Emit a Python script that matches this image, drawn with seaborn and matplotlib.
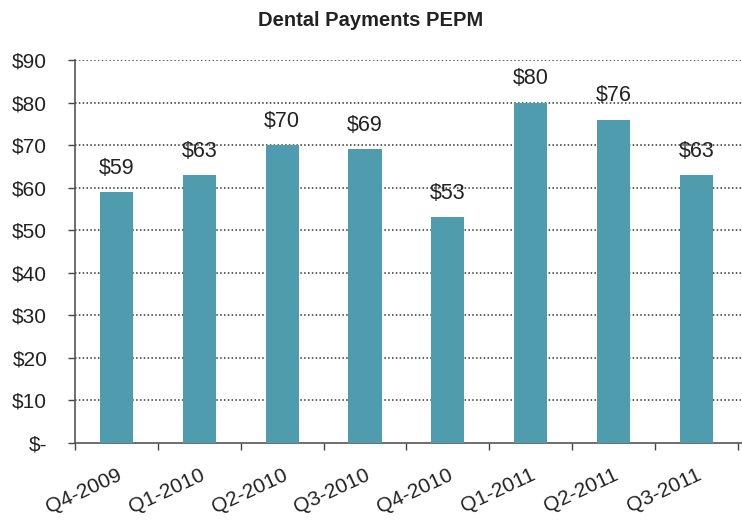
import matplotlib
matplotlib.use("Agg")
import matplotlib.pyplot as plt
import seaborn as sns
import pandas as pd
import numpy as np
from matplotlib.ticker import FixedLocator

quarters = ["Q4-2009", "Q1-2010", "Q2-2010", "Q3-2010", "Q4-2010", "Q1-2011", "Q2-2011", "Q3-2011"]
payments = [59, 63, 70, 69, 53, 80, 76, 63]
y_ticks = [0, 10, 20, 30, 40, 50, 60, 70, 80, 90]
y_tick_labels = ["$-", "$10", "$20", "$30", "$40", "$50", "$60", "$70", "$80", "$90"]
title = "Dental Payments PEPM"

sns.set_theme(style="white")
plt.rcParams['font.family'] = ['Liberation Sans', 'DejaVu Sans']

df = pd.DataFrame({"quarter": quarters, "payment": payments})

fig = plt.figure(figsize=(7.42, 5.23), dpi=100)
ax = fig.add_axes([75/742, 1 - 443/523, 1 - 75/742, (443 - 60)/523])

sns.barplot(data=df, x="quarter", y="payment", color="#4F9CAF", width=0.4,
            saturation=1, linewidth=0, ax=ax, zorder=3)

ax.set_ylim(0, 90)
ax.set_xlim(-0.5, 7.55)
ax.set_yticks(y_ticks)
ax.set_yticklabels(y_tick_labels, fontsize=15, color="#222222")
ax.set_xlabel("")
ax.set_ylabel("")

for y in y_ticks[1:]:
    ax.axhline(y, color="#333333", linestyle=(0, (1, 1.5)), linewidth=1.1, zorder=1)

for i, v in enumerate(payments):
    ax.text(i, v + 5.6, f"${v}", ha="center", va="center", fontsize=15.5, color="#222222")

ax.set_xticks(range(len(quarters)))
ax.set_xticklabels(quarters, rotation=25, ha="right", rotation_mode="anchor",
                   fontsize=15, color="#222222")
ax.tick_params(axis="x", which="major", length=0, pad=16)
ax.xaxis.set_minor_locator(FixedLocator(np.arange(-0.5, 8, 1.0)))
ax.tick_params(axis="x", which="minor", length=5, width=1, color="#444444", direction="out", bottom=True)
ax.tick_params(axis="y", which="major", length=5, width=1, color="#444444", direction="out", left=True, pad=15)

for s in ["top", "right"]:
    ax.spines[s].set_visible(False)
for s in ["left", "bottom"]:
    ax.spines[s].set_color("#555555")
    ax.spines[s].set_linewidth(1.2)

fig.text(0.5, 1 - 20/523, title, ha="center", va="center", fontsize=14.5,
         fontweight="bold", color="#222222")

fig.savefig("out.png", dpi=100)
